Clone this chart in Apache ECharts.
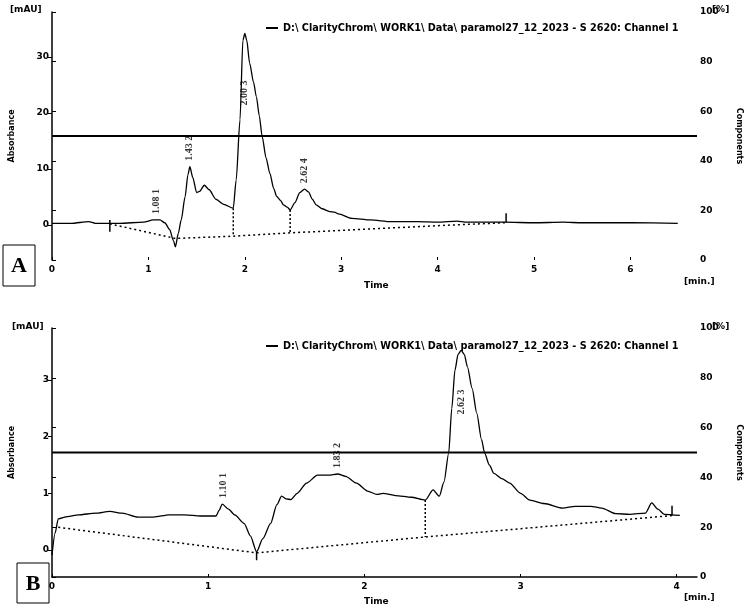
<!DOCTYPE html>
<html>
<head>
<meta charset="utf-8">
<script src="https://cdn.jsdelivr.net/npm/echarts@6/dist/echarts.min.js"></script>
<style>html,body{margin:0;padding:0;background:#fff}#c{width:751px;height:612px}</style>
</head>
<body>
<div id="c"></div>
<script>
// ---------- Data: panel A ----------
const timeA = [0.00,0.20,0.38,0.45,0.70,0.95,1.05,1.12,1.17,1.22,1.26,1.28,1.31,1.34,1.38,1.41,1.43,1.46,1.50,1.53,1.58,1.63,1.70,1.78,1.88,1.91,1.95,1.98,2.00,2.02,2.05,2.09,2.12,2.15,2.18,2.22,2.26,2.30,2.33,2.37,2.40,2.44,2.47,2.52,2.57,2.62,2.66,2.70,2.74,2.80,2.88,2.93,2.97,3.11,3.30,3.52,3.80,4.00,4.20,4.30,4.70,5.00,5.30,5.50,6.00,6.49];
const absA  = [0.3,0.3,0.6,0.3,0.3,0.5,0.9,0.9,0.4,-0.8,-2.8,-3.9,-1.5,0.9,5.0,9.0,10.4,8.5,5.8,6.0,7.1,6.3,4.6,3.7,3.0,8.0,18.8,33.0,34.2,33.0,28.9,25.5,22.9,19.5,15.8,12.0,9.2,6.5,5.1,4.4,3.6,3.2,2.7,4.0,5.8,6.4,5.9,4.6,3.6,2.9,2.4,2.3,2.0,1.2,0.9,0.6,0.6,0.5,0.7,0.5,0.5,0.4,0.5,0.4,0.4,0.3];
const baseTimeA = [0.60,1.28,1.88,2.47,3.55,4.15,4.70];
const baseAbsA  = [0.2,-2.4,-2.0,-1.4,-0.5,0.0,0.4];
const dropTimeA = [1.88,2.47];
const dropTopA  = [3.0,2.7];
const dropBotA  = [-2.0,-1.4];
const markTimeA = [0.60,4.71];
const markTopA  = [0.9,2.1];
const markBotA  = [-1.2,0.5];
const peakTimeA = [1.08,1.43,2.00,2.62];
const peakAbsA  = [0.9,10.4,34.2,6.4];
const yTicksA = [0,10,20,30];
const xTicksA = [0,1,2,3,4,5,6];

// ---------- Data: panel B ----------
const timeB = [0.00,0.02,0.04,0.10,0.17,0.28,0.37,0.45,0.55,0.65,0.75,0.85,0.95,1.05,1.07,1.09,1.13,1.17,1.23,1.27,1.31,1.35,1.40,1.44,1.47,1.50,1.53,1.57,1.63,1.70,1.77,1.83,1.88,1.95,2.02,2.08,2.12,2.20,2.30,2.39,2.44,2.48,2.51,2.54,2.56,2.58,2.60,2.62,2.64,2.66,2.69,2.72,2.75,2.77,2.80,2.83,2.88,2.93,3.00,3.06,3.15,3.27,3.35,3.45,3.52,3.61,3.70,3.80,3.84,3.88,3.92,4.02];
const absB  = [-0.09,0.30,0.55,0.59,0.62,0.65,0.68,0.65,0.58,0.58,0.62,0.62,0.60,0.60,0.70,0.81,0.72,0.62,0.47,0.25,-0.03,0.20,0.47,0.80,0.95,0.90,0.89,1.00,1.18,1.32,1.32,1.34,1.30,1.18,1.04,0.98,1.00,0.96,0.93,0.88,1.06,0.95,1.20,1.71,2.50,3.17,3.45,3.52,3.45,3.23,2.85,2.41,1.95,1.71,1.50,1.35,1.26,1.18,1.00,0.88,0.82,0.74,0.77,0.77,0.74,0.64,0.63,0.65,0.83,0.72,0.63,0.61];
const baseTimeB = [0.04,1.31,2.39,3.98];
const baseAbsB  = [0.40,-0.05,0.23,0.61];
const dropTimeB = [2.39];
const dropTopB  = [0.88];
const dropBotB  = [0.23];
const markTimeB = [1.31,3.97];
const markTopB  = [-0.03,0.78];
const markBotB  = [-0.18,0.61];
const peakTimeB = [1.10,1.83,2.62];
const peakAbsB  = [0.81,1.34,3.52];
const yTicksB = [0,1,2,3];
const xTicksB = [0,1,2,3,4];

// ---------- Shared ----------
const componentsLevel = 50;
const pctTicks = [0,20,40,60,80,100];
const traceName = 'D:\\ ClarityChrom\\ WORK1\\ Data\\ paramol27_12_2023 - S 2620: Channel 1';

const zip = (a,b) => a.map((x,i)=>[x,b[i]]);
const font = 'DejaVu Sans';
const lbl = {color:'#000', fontFamily:font, fontWeight:'bold', fontSize:9};

function xAxisDef(gi, max, ticks, showLine){
  return {type:'value', gridIndex:gi, min:0, max:max,
    axisLine:{show:showLine, onZero:false, lineStyle:{color:'#000', width:1.5}},
    axisTick:{show:true, inside:true, length:3, customValues:ticks, lineStyle:{color:'#000'}},
    axisLabel:Object.assign({margin:5, customValues:ticks}, lbl),
    splitLine:{show:false}};
}
function yLeftDef(gi, min, max, ticks){
  return {type:'value', gridIndex:gi, min:min, max:max, position:'left',
    name:'Absorbance', nameLocation:'middle', nameGap:36,
    nameTextStyle:{color:'#000', fontFamily:font, fontWeight:'bold', fontSize:8},
    axisLine:{show:true, onZero:false, lineStyle:{color:'#000', width:1.5}},
    axisTick:{show:true, length:4, customValues:ticks, lineStyle:{color:'#000'}},
    axisLabel:Object.assign({margin:3, customValues:ticks}, lbl),
    splitLine:{show:false}};
}
function yRightDef(gi){
  return {type:'value', gridIndex:gi, min:0, max:100, position:'right',
    name:'Components', nameLocation:'middle', nameGap:38, nameRotate:-90,
    nameTextStyle:{color:'#000', fontFamily:font, fontWeight:'bold', fontSize:8},
    axisLine:{show:false},
    axisTick:{show:true, length:4, customValues:pctTicks, lineStyle:{color:'#000'}},
    axisLabel:Object.assign({margin:3, customValues:pctTicks}, lbl),
    splitLine:{show:false}};
}

function panelSeries(p){
  const s = [];
  s.push({name:traceName, type:'line', xAxisIndex:p.ax, yAxisIndex:p.ay,
    data:zip(p.t,p.v), showSymbol:false, smooth:0.25, smoothMonotone:'x',
    lineStyle:{color:'#000', width:1.3}, itemStyle:{color:'#000'}, z:5});
  s.push({type:'line', xAxisIndex:p.ax, yAxisIndex:p.ay, data:zip(p.bt,p.bv),
    showSymbol:false, lineStyle:{color:'#000', width:1.5, type:[2,3]}, z:4});
  p.dt.forEach((t,i)=>s.push({type:'line', xAxisIndex:p.ax, yAxisIndex:p.ay,
    data:[[t,p.dtop[i]],[t,p.dbot[i]]], showSymbol:false,
    lineStyle:{color:'#000', width:1.5, type:[2,2]}, z:4}));
  p.mt.forEach((t,i)=>s.push({type:'line', xAxisIndex:p.ax, yAxisIndex:p.ay,
    data:[[t,p.mtop[i]],[t,p.mbot[i]]], showSymbol:false,
    lineStyle:{color:'#000', width:1.5}, z:4}));
  s.push({type:'line', xAxisIndex:p.ax, yAxisIndex:p.ay+1,
    data:[[0,componentsLevel],[p.xmax,componentsLevel]], showSymbol:false,
    lineStyle:{color:'#000', width:2}, z:3});
  s.push({type:'scatter', xAxisIndex:p.ax, yAxisIndex:p.ay, symbolSize:0,
    data:p.pt.map((t,i)=>({value:[t,p.pv[i]],
      label:{distance:(i===p.inside?p.insideDist:6)}})),
    label:{show:true, position:'top', rotate:90, align:'left', verticalAlign:'middle',
      color:'#000', fontFamily:'Liberation Serif', fontWeight:'bold', fontSize:10,
      formatter:(d)=>d.value[0].toFixed(2)+' '+(d.dataIndex+1)},
    emphasis:{disabled:true}, z:6});
  return s;
}

const xmaxA = 6.69, xmaxB = 4.13;
const series = [].concat(
  panelSeries({ax:0, ay:0, t:timeA, v:absA, bt:baseTimeA, bv:baseAbsA, dt:dropTimeA, dtop:dropTopA, dbot:dropBotA,
    mt:markTimeA, mtop:markTopA, mbot:markBotA, pt:peakTimeA, pv:peakAbsA, inside:2, insideDist:-72, xmax:xmaxA}),
  panelSeries({ax:1, ay:2, t:timeB, v:absB, bt:baseTimeB, bv:baseAbsB, dt:dropTimeB, dtop:dropTopB, dbot:dropBotB,
    mt:markTimeB, mtop:markTopB, mbot:markBotB, pt:peakTimeB, pv:peakAbsB, inside:2, insideDist:-64, xmax:xmaxB})
);

function txt(x,y,s,extra){
  return {type:'text', x:x, y:y, z:100, style:Object.assign({text:s, fill:'#000',
    font:'bold 9px "DejaVu Sans"'}, extra||{})};
}
function box(x,y,w,h,letter){
  return [{type:'rect', shape:{x:x,y:y,width:w,height:h}, z:99,
      style:{fill:'#fff', stroke:'#000', lineWidth:1}},
    {type:'text', x:x+w/2, y:y+h/2+1, z:100, style:{text:letter, fill:'#000',
      font:'bold 22px "Liberation Serif"', align:'center', verticalAlign:'middle'}}];
}

const legendText = {color:'#000', fontFamily:font, fontWeight:'bold', fontSize:9.7, padding:[0,0,0,0]};
const option = {
  animation:false,
  backgroundColor:'#fff',
  grid:[{left:46, top:12, width:654, height:248},
        {left:47, top:328, width:650, height:249}],
  xAxis:[xAxisDef(0,xmaxA,xTicksA,false), xAxisDef(1,xmaxB,xTicksB,true)],
  yAxis:[yLeftDef(0,-6.25,38.04,yTicksA), yRightDef(0),
         yLeftDef(1,-0.476,3.915,yTicksB), yRightDef(1)],
  legend:[
    {left:261, top:18, data:[traceName], icon:'rect', itemWidth:12, itemHeight:2, itemGap:4,
     textStyle:legendText, selectedMode:false},
    {left:261, top:336, data:[traceName], icon:'rect', itemWidth:12, itemHeight:2, itemGap:4,
     textStyle:legendText, selectedMode:false}
  ],
  graphic:[
    txt(10,5,'[mAU]'), txt(712,5,'[%]'),
    txt(364,281,'Time'), txt(684,277,'[min.]'),
    txt(12,322,'[mAU]'), txt(712,322,'[%]'),
    txt(364,597,'Time'), txt(684,593,'[min.]')
  ].concat(box(3,245,32,41,'A'), box(17,563,32,40,'B')),
  series:series
};
const chart = echarts.init(document.getElementById('c'), null, {renderer:'canvas'});
chart.setOption(option);
</script>
</body>
</html>
